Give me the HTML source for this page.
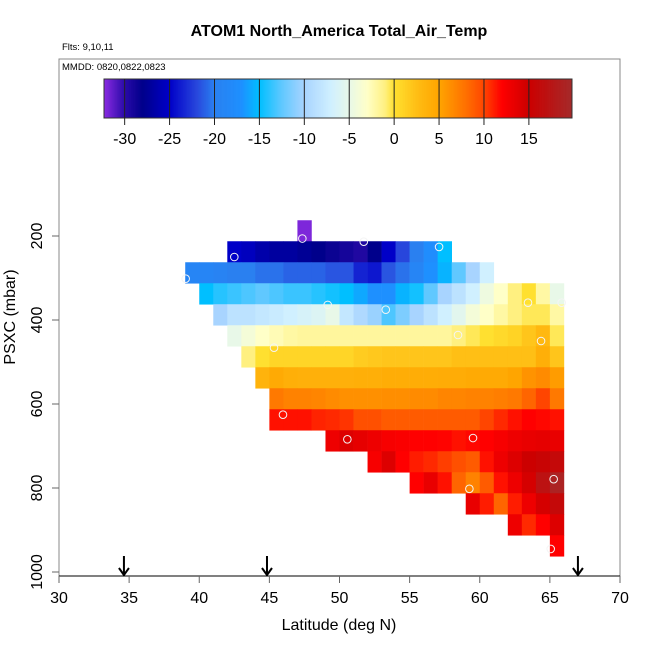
<!DOCTYPE html>
<html><head><meta charset="utf-8"><style>
html,body{margin:0;padding:0;background:#fff;}
svg{display:block;font-family:"Liberation Sans",Arial,sans-serif;}
</style></head><body>
<svg id="chart" width="650" height="650" viewBox="0 0 650 650">
<text x="339" y="36" text-anchor="middle" font-size="16" font-weight="bold">ATOM1 North_America Total_Air_Temp</text>
<text x="62" y="50" font-size="9.5">Flts: 9,10,11</text>
<rect x="59" y="59" width="561" height="517" fill="none" stroke="#888" stroke-width="1"/>
<text x="62" y="70" font-size="9.5">MMDD: 0820,0822,0823</text>
<g id="cbar"></g>
<g id="cells"></g>
<g id="pts"></g>
<g id="axes"></g>
<g id="arrows"></g>
<text x="339" y="630" text-anchor="middle" font-size="16">Latitude (deg N)</text>
<text transform="translate(15,317) rotate(-90)" text-anchor="middle" font-size="16">PSXC (mbar)</text>
</svg>
<script>
// ---- data ----
const rowPressures = [187.5,237.5,287.5,337.5,387.5,437.5,487.5,537.5,587.5,637.5,687.5,737.5,787.5,837.5,887.5,937.5];
const rowStartLat = [47,42,39,40,41,42,43,44,45,45,49,52,55,59,62,65];
const row0 = [-32];
const row1 = [-25,-25.5,-26.5,-27,-27,-27.5,-28,-28.5,-29,-29.5,-28,-25,-22,-20,-17.5,-15];
const row2 = [-19,-19,-19.5,-20,-20,-20.5,-20.5,-21,-21,-21,-21.5,-21.5,-23.5,-24,-21.5,-20.5,-19,-17,-15.5,-12.5,-10,-7];
const row3 = [-15,-14,-13.5,-13,-12.5,-13,-13.5,-13.5,-14,-14.5,-15,-16,-17,-17,-15.5,-14.5,-12.5,-10,-8.5,-7,-4.5,-3,-1,0,-2,-5];
const row4 = [-10,-8.5,-8.5,-8,-7.5,-7,-6.5,-6,-5,-8,-9.5,-10.5,-13,-11.5,-10,-8.5,-7,-5.5,-4,-3,-2,-1,-0.5,-0.5,-2];
const row5 = [-5,-4,-3,-2.5,-2,-1.8,-1.8,-1.8,-1.8,-1.8,-1.8,-1.8,-1.8,-1.8,-1.8,-1.8,-1,-0.5,0,0.5,1,2,3,-0.5];
const row6 = [-1,0,0.8,0.8,0.8,0.8,0.8,0.8,1.5,1.8,2,2,2,2,2,2.5,2.5,2.5,2.5,2.5,2.5,4,2];
const row7 = [3.5,4.5,4,3.8,3.8,3.8,3.8,4,4,4.2,4.2,4.2,4.2,4.3,4.3,4.5,4.5,4.5,5,6,6.5,5.5];
const row8 = [7.5,7,7,6.8,6.5,6.2,6.2,6.2,6.3,6.3,6.5,6.5,6.8,6.8,7,7,7.2,7.5,8.5,10,7.5];
const row9 = [11.5,11.5,11.5,11,10.8,10.5,9.5,9.5,9,9,9,9,9,9,9,10,10.8,11.5,12,11.8,11.5];
const row10 = [13,14,13.5,13,12.5,12.3,12,12,11.9,11.5,11.8,12,12.5,13,13.3,13.5,13.3];
const row11 = [12.5,14,12,11.2,10.8,10.2,9.5,9,11.5,13,14,15,15.5,16];
const row12 = [12,13.3,11.5,8.5,7,9,11.5,13,14.5,17,19];
const row13 = [13.3,11.2,8.5,11.2,13,14.5,16];
const row14 = [13,10.8,12,14];
const row15 = [12];
const rowValues = [row0,row1,row2,row3,row4,row5,row6,row7,row8,row9,row10,row11,row12,row13,row14,row15];
const pointLat = [39.03,42.5,47.35,51.73,57.1,49.16,53.3,63.44,65.84,58.45,64.37,45.33,45.97,50.56,59.52,59.26,65.27,65.06];
const pointP = [301.7,250,206,213.6,226,364,375.5,358.8,358.8,435.7,450,466,625.5,684,681,802,779,945];
const xTicks = [30,35,40,45,50,55,60,65,70];
const yTicks = [200,400,600,800,1000];
const cbTicks = [-30,-25,-20,-15,-10,-5,0,5,10,15];
const arrowLats = [34.63,44.83,67.0];

// ---- scales ----
const X0=59, X1=620, LAT0=30, LAT1=70;
const xs = v => X0 + (v-LAT0)*(X1-X0)/(LAT1-LAT0);
const ys = p => 236 + (p-200)*0.42;
const CB0=104, CB1=572, CBMIN=-32.3, CBMAX=19.8;
const cs = v => CB0 + (v-CBMIN)*(CB1-CB0)/(CBMAX-CBMIN);

const stops = [[-32.3,[138,43,226]],[-30,[42,10,168]],[-28,[0,0,139]],[-25,[0,0,200]],[-22,[40,70,220]],[-20,[42,128,240]],[-17,[30,144,255]],[-15,[0,191,255]],[-12.5,[96,200,255]],[-10,[168,212,255]],[-7,[208,240,255]],[-5,[232,248,232]],[-3,[255,255,200]],[-1,[255,240,128]],[0,[255,224,48]],[3,[255,184,16]],[5,[255,165,0]],[8,[255,112,0]],[10,[255,69,0]],[12,[255,0,0]],[15,[204,0,0]],[19.8,[165,42,42]]];
function color(v){
  if(v<=stops[0][0]) return 'rgb('+stops[0][1]+')';
  for(let i=1;i<stops.length;i++){
    if(v<=stops[i][0]){
      const [a,ca]=stops[i-1],[b,cb]=stops[i];const t=(v-a)/(b-a);
      return 'rgb('+ca.map((c,k)=>Math.round(c+(cb[k]-c)*t)).join(',')+')';
    }
  }
  return 'rgb('+stops[stops.length-1][1]+')';
}
const NS='http://www.w3.org/2000/svg';
function mk(tag,attrs,parent){const e=document.createElementNS(NS,tag);for(const k in attrs)e.setAttribute(k,attrs[k]);parent.appendChild(e);return e;}

// colorbar
const cbar=document.getElementById('cbar');
for(let v=CBMIN; v<CBMAX; v+=0.1){
  const r=mk('rect',{x:cs(v),y:79,width:(CB1-CB0)/(CBMAX-CBMIN)*0.1+0.4,height:39,fill:color(v+0.05)},cbar);
  
  
}
const cbf=mk('rect',{x:CB0,y:79,width:CB1-CB0,height:39,fill:'none',stroke:'#333','stroke-width':1},cbar);


cbTicks.forEach(t=>{
  const l=mk('line',{x1:cs(t),x2:cs(t),y1:79,y2:125,stroke:'#222','stroke-width':1},cbar);
  
  
  const tx=mk('text',{x:cs(t),y:144,'text-anchor':'middle','font-size':16},cbar);
  tx.textContent=t;
  
  
});

// heatmap cells
const cells=document.getElementById('cells');
rowValues.forEach((vals,r)=>{
  const p=rowPressures[r];
  const y0=ys(p-25), y1=ys(p+25);
  vals.forEach((v,c)=>{
    const lat=rowStartLat[r]+c;
    const x0=xs(lat), x1=xs(lat+1);
    const rc=mk('rect',{x:x0,y:y0,width:x1-x0+0.3,height:y1-y0+0.3,fill:color(v)},cells);
    
    
  });
});

// points
const pts=document.getElementById('pts');
pointLat.forEach((lat,i)=>{
  const c=mk('circle',{cx:xs(lat),cy:ys(pointP[i]),r:3.8,fill:'none',stroke:'#f4f4f4','stroke-width':1},pts);
  
  
});

// axes
const ax=document.getElementById('axes');
const xl=mk('line',{x1:X0,x2:X1,y1:576,y2:576,stroke:'#000','stroke-width':1},ax);


xTicks.forEach(t=>{
  const l=mk('line',{x1:xs(t),x2:xs(t),y1:576,y2:583,stroke:'#666'},ax);
  
  
  const tx=mk('text',{x:xs(t),y:603,'text-anchor':'middle','font-size':16},ax);
  tx.textContent=t;
  
  
});
yTicks.forEach(t=>{
  const l=mk('line',{x1:52,x2:59,y1:ys(t),y2:ys(t),stroke:'#666'},ax);
  
  
  const tx=mk('text',{x:0,y:0,'text-anchor':'middle','font-size':16,transform:'translate(42,'+ys(t)+') rotate(-90)'},ax);
  tx.textContent=t;
  
  
});

// arrows
const ar=document.getElementById('arrows');
arrowLats.forEach(lat=>{
  const x=xs(lat);
  const g=mk('path',{d:'M'+x+' 556 L'+x+' 575 M'+(x-5)+' 568 L'+x+' 575 L'+(x+5)+' 568',stroke:'#000','stroke-width':2,fill:'none'},ar);
  
  
});
</script>
</body></html>
